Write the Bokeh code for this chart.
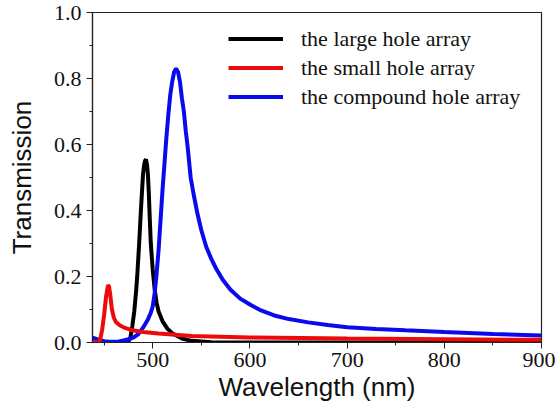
from bokeh.plotting import figure
from bokeh.models import Range1d, Legend, LegendItem, FixedTicker, PrintfTickFormatter
from bokeh.embed import file_html
from bokeh.resources import INLINE

# Data
large_wl = [438, 460, 470, 475, 477, 479, 481, 483, 484, 486, 488, 490, 491, 492, 493, 494, 495, 496, 497, 498,
            500, 502, 504, 506, 510, 515, 520, 530, 540, 560, 600, 700, 800, 900]
large_t = [0.0, 0.0, 0.0, 0.003, 0.015, 0.05, 0.095, 0.16, 0.2, 0.3, 0.41, 0.51, 0.535, 0.55, 0.555, 0.54, 0.51, 0.45, 0.37, 0.3,
           0.22, 0.16, 0.12, 0.094, 0.065, 0.042, 0.028, 0.012, 0.005, 0.001, 0.0, 0.0, 0.0, 0.0]

small_wl = [438, 444, 446, 448, 450, 452, 454, 455, 456, 458, 460, 462, 466, 470, 479, 490, 506, 540, 600, 700, 800, 900]
small_t = [0.0, 0.0, 0.01, 0.04, 0.085, 0.14, 0.174, 0.17, 0.15, 0.1, 0.075, 0.062, 0.052, 0.046, 0.037, 0.032, 0.027,
           0.02, 0.015, 0.012, 0.01, 0.008]

compound_wl = [438, 445, 450, 455, 460, 465, 470, 475, 480, 485, 490, 495, 498, 500, 502, 504, 506, 508, 510, 512,
               514, 516, 518, 520, 522, 524, 526, 528, 530, 532, 534, 536, 539, 542, 546, 550, 555, 560, 565, 572,
               580, 590, 600, 610, 625, 640, 660, 680, 700, 730, 760, 800, 850, 900]
compound_t = [0.015, 0.008, 0.004, 0.002, 0.002, 0.003, 0.006, 0.01, 0.015, 0.025, 0.045, 0.07, 0.09, 0.11, 0.15, 0.21,
              0.28, 0.37, 0.46, 0.54, 0.62, 0.69, 0.75, 0.79, 0.82, 0.83, 0.82, 0.79, 0.74, 0.7, 0.64, 0.59, 0.5, 0.45,
              0.39, 0.34, 0.29, 0.255, 0.225, 0.19, 0.16, 0.133, 0.115, 0.099, 0.082, 0.071, 0.061, 0.053, 0.046,
              0.041, 0.037, 0.032, 0.026, 0.021]

series_names = ["the large hole array", "the small hole array", "the compound hole array"]
x_ticks = [500, 600, 700, 800, 900]
y_ticks = [0.0, 0.2, 0.4, 0.6, 0.8, 1.0]

p = figure(frame_width=449, frame_height=330, output_backend="svg", toolbar_location=None,
           x_range=Range1d(438, 900), y_range=Range1d(0, 1.0),
           min_border_left=92, min_border_top=12, min_border_right=14, min_border_bottom=14)
p.background_fill_color = "white"
p.border_fill_color = "white"
p.xgrid.visible = False
p.ygrid.visible = False
p.outline_line_color = "#222222"
p.outline_line_width = 1.2

r_large = p.line(large_wl, large_t, line_color="#000000", line_width=4)
r_comp = p.line(compound_wl, compound_t, line_color="#0a0aee", line_width=4)
r_small = p.line(small_wl, small_t, line_color="#ee0a0a", line_width=4)

legend = Legend(items=[LegendItem(label=series_names[0], renderers=[r_large]),
                       LegendItem(label=series_names[1], renderers=[r_small]),
                       LegendItem(label=series_names[2], renderers=[r_comp])],
                location=(136, 231), padding=0, margin=0, spacing=0,
                glyph_width=55, glyph_height=29, label_height=29, label_standoff=18,
                border_line_alpha=0, background_fill_alpha=0,
                label_text_font="Liberation Serif", label_text_font_size="22px", label_text_color="#111111")
p.add_layout(legend, "center")

for ax in (p.xaxis[0], p.yaxis[0]):
    ax.axis_line_color = "#222222"
    ax.axis_line_width = 1.2
    ax.major_tick_in = 0
    ax.major_tick_out = 6
    ax.minor_tick_in = 0
    ax.minor_tick_out = 3
    ax.major_tick_line_color = "#222222"
    ax.minor_tick_line_color = "#222222"
    ax.major_label_text_font = "Liberation Serif"
    ax.major_label_text_font_size = "22px"
    ax.major_label_text_color = "#111111"
    ax.axis_label_text_font = "Liberation Sans"
    ax.axis_label_text_font_size = "26px"
    ax.axis_label_text_font_style = "normal"
    ax.axis_label_text_color = "#111111"

p.xaxis[0].ticker = FixedTicker(ticks=x_ticks, minor_ticks=[450, 550, 650, 750, 850])
p.yaxis[0].ticker = FixedTicker(ticks=y_ticks, minor_ticks=[0.1, 0.3, 0.5, 0.7, 0.9])
p.yaxis[0].formatter = PrintfTickFormatter(format="%.1f")
p.xaxis[0].axis_label = "Wavelength (nm)"
p.yaxis[0].axis_label = "Transmission"
p.xaxis[0].major_label_standoff = 4
p.yaxis[0].major_label_standoff = 5
p.xaxis[0].axis_label_standoff = 2
p.yaxis[0].axis_label_standoff = 14

open("out.html", "w").write(file_html(p, INLINE))
